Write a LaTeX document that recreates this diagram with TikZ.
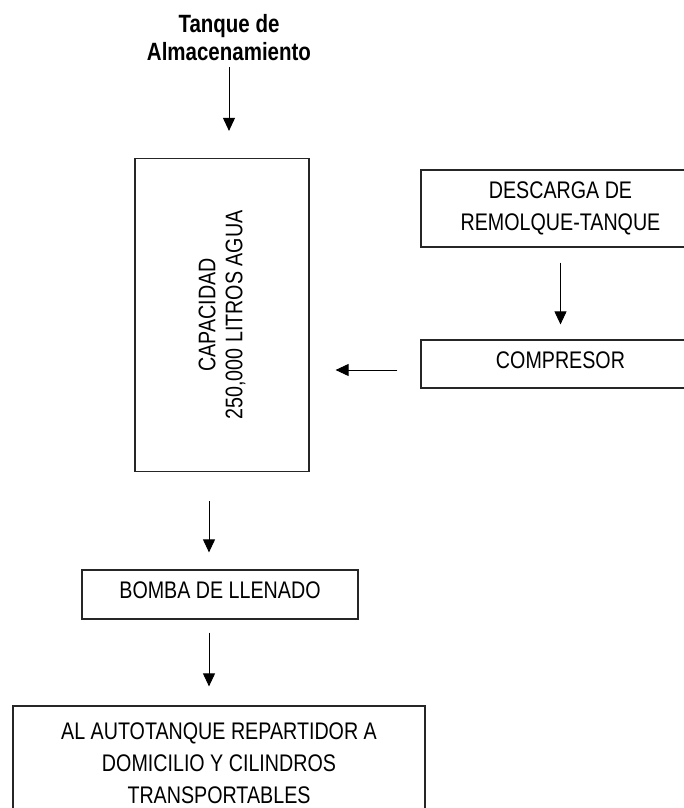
\documentclass[tikz,border=0pt]{standalone}
\usepackage{fontspec}
\setmainfont{Liberation Sans}[FakeStretch=0.82]
\usetikzlibrary{arrows.meta}
\begin{document}
\begin{tikzpicture}[x=1pt,y=-1pt,
  box/.style={draw=black!85, line width=1.2pt, inner sep=0pt, align=center,
    font=\fontsize{24}{32}\selectfont},
  onebox/.style={box, text height=16.5pt, text depth=8pt},
  arr/.style={-{Triangle[length=13pt,width=12pt]}, line width=0.9pt}]
\useasboundingbox (0,0) rectangle (684,808);
\clip (0,0) rectangle (684,808);
\node[font=\bfseries\fontsize{25}{28}\selectfont, align=center, inner sep=2pt] (title) at (229,38) {Tanque de\\Almacenamiento};
\node[box, minimum width=174pt, minimum height=313pt] (tank) at (222,315) {};
\node[rotate=90, align=center, font=\fontsize{24}{27}\selectfont] (tanktext) at (tank.center) {CAPACIDAD\\250,000 LITROS AGUA};
\node[box, minimum width=279pt, minimum height=77pt] (desc) at (560.5,208.5) {DESCARGA DE\\REMOLQUE-TANQUE};
\node[onebox, minimum width=279pt, minimum height=48pt] (comp) at (560.5,364) {COMPRESOR};
\node[onebox, minimum width=276pt, minimum height=49pt] (bomba) at (220,594.5) {BOMBA DE LLENADO};
\node[box, minimum width=412pt, minimum height=114pt] (dest) at (219,763) {AL AUTOTANQUE REPARTIDOR A\\DOMICILIO Y CILINDROS\\TRANSPORTABLES};
\draw[arr, shorten <=4pt, shorten >=27pt] (title.south) -- (title.south |- tank.north);
\draw[arr, shorten <=15pt, shorten >=15pt] (desc.south) -- (comp.north);
\coordinate (cl) at ([yshift=-6pt]comp.west);
\draw[arr, shorten <=23pt, shorten >=26pt] (cl) -- (cl -| tank.east);
\coordinate (a3) at ([xshift=-13pt]tank.south);
\draw[arr, shorten <=29pt, shorten >=17pt] (a3) -- (a3 |- bomba.north);
\coordinate (a4) at ([xshift=-11pt]bomba.south);
\draw[arr, shorten <=13pt, shorten >=19pt] (a4) -- (a4 |- dest.north);
\end{tikzpicture}
\end{document}
